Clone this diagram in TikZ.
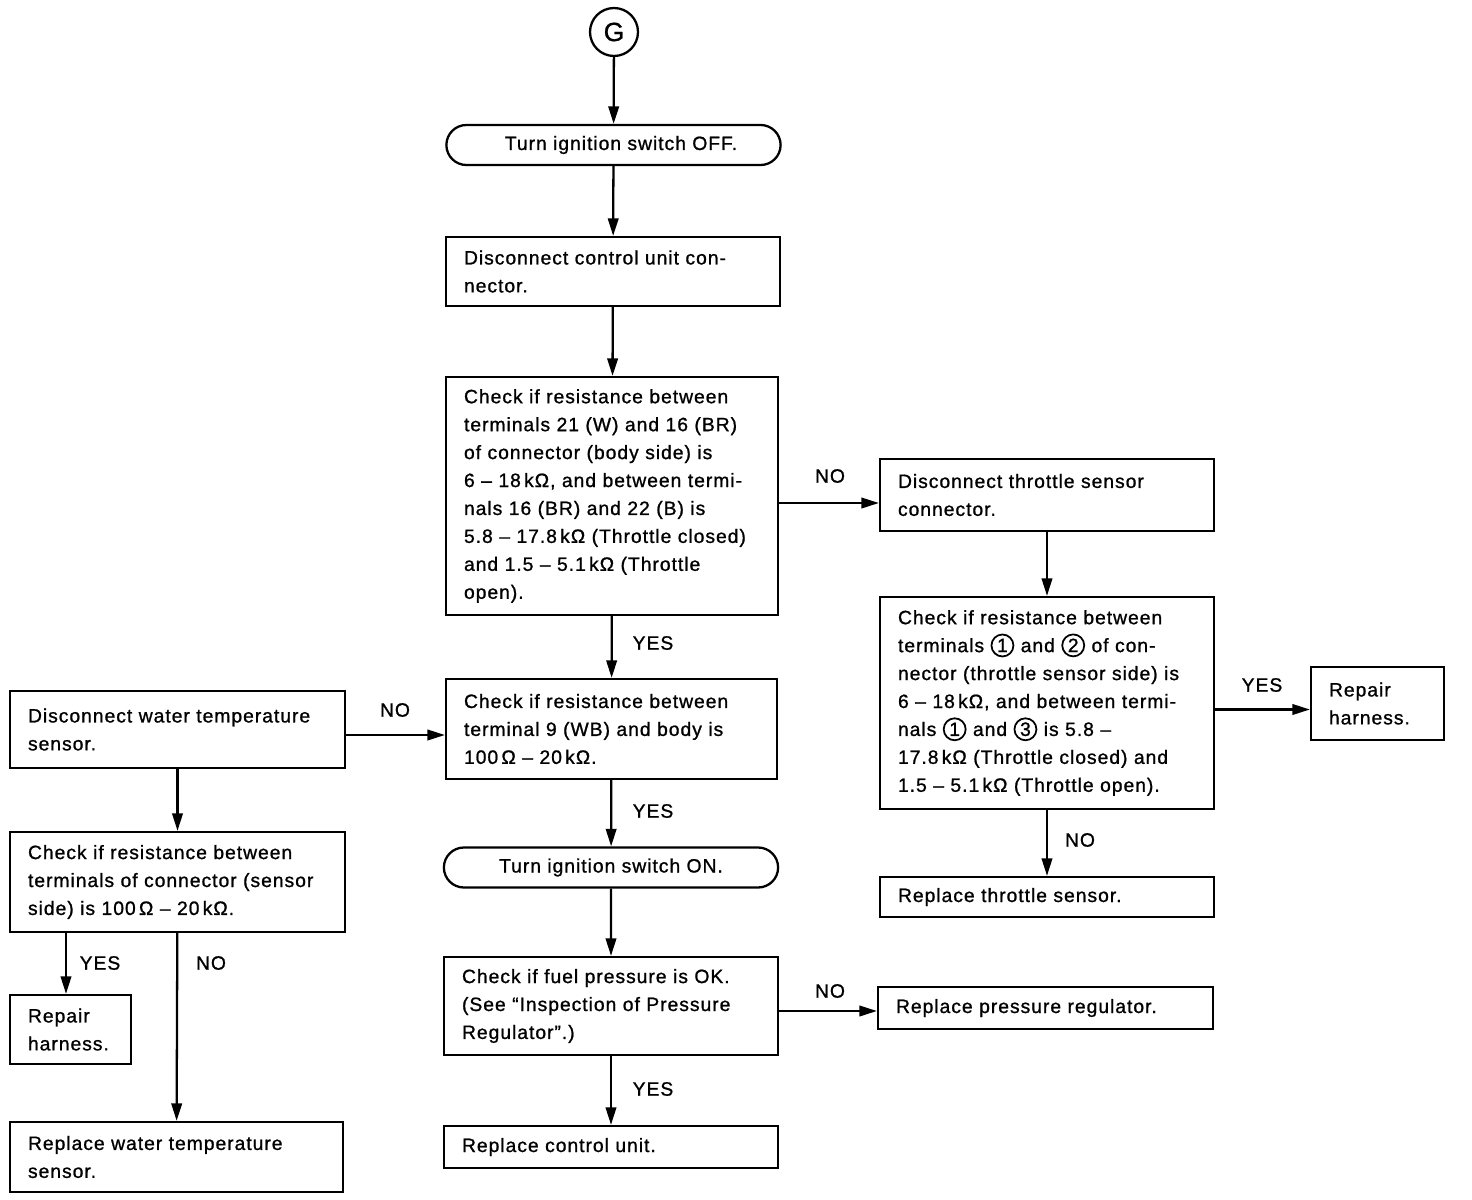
\documentclass[tikz,border=0pt]{standalone}
\usepackage{fontspec}
\setmainfont[LetterSpace=5,FakeBold=1.0]{Liberation Sans}
\usetikzlibrary{arrows.meta,shapes.misc}

\tikzset{
  box/.style 2 args={draw, line width=1.3pt, rectangle, align=left,
    inner xsep=0.36cm, inner ysep=0pt, text width=#1, minimum height=#2},
  roundbox/.style={draw, line width=1.3pt, rounded rectangle,
    minimum width=6.92cm, minimum height=0.8cm},
  flow/.style={line width=1.3pt, -{Triangle[length=10pt,width=6pt]}},
  lbl/.style={inner sep=0pt},
}
\newcommand{\cnum}[1]{\tikz[baseline=(c.base)]\node[circle,draw,line width=1pt,
  inner sep=0.4pt,minimum size=12.5pt] (c) {#1};}

\begin{document}
\begin{tikzpicture}[x=0.02cm, y=-0.02cm, font=\fontsize{11}{15.9}\selectfont]
  \useasboundingbox (0,0) rectangle (1472,1200);

  % start
  \node[circle, draw, line width=1.3pt, minimum size=0.96cm, font=\fontsize{15}{15}\selectfont] (G) at (614,32) {G};

  % main column
  \node[roundbox] (off) at (613.5,145) {\hspace{0.3cm}Turn ignition switch OFF.};
  \node[box={5.96cm}{1.38cm}] (disc) at (613,271.5)
    {Disconnect control unit con-\\nector.};
  \node[box={5.92cm}{4.76cm}] (chk1) at (612,496)
    {Check if resistance between\\terminals 21 (W) and 16 (BR)\\of connector (body side) is\\
     6 – 18\,kΩ, and between termi-\\nals 16 (BR) and 22 (B) is\\
     5.8 – 17.8\,kΩ (Throttle closed)\\and 1.5 – 5.1\,kΩ (Throttle\\open).};
  \node[box={5.9cm}{2.0cm}] (chk2) at (611.5,729)
    {Check if resistance between\\terminal 9 (WB) and body is\\100\,Ω – 20\,kΩ.};
  \node[roundbox] (on) at (611,867.5) {Turn ignition switch ON.};
  \node[box={5.96cm}{1.96cm}] (fuel) at (611,1006)
    {Check if fuel pressure is OK.\\(See ``Inspection of Pressure\\Regulator''.)};
  \node[box={5.96cm}{0.84cm}] (repcu) at (611,1147) {Replace control unit.};

  % throttle sensor branch
  \node[box={5.96cm}{1.44cm}] (thr) at (1047,495)
    {Disconnect throttle sensor\\connector.};
  \node[box={5.96cm}{4.24cm}] (chkthr) at (1047,703)
    {Check if resistance between\\terminals \cnum{1} and \cnum{2} of con-\\
     nector (throttle sensor side) is\\6 – 18\,kΩ, and between termi-\\
     nals \cnum{1} and \cnum{3} is 5.8 –\\17.8\,kΩ (Throttle closed) and\\
     1.5 – 5.1\,kΩ (Throttle open).};
  \node[box={1.94cm}{1.46cm}] (rep2) at (1377.5,703.5) {Repair\\harness.};
  \node[box={5.96cm}{0.8cm}] (repthr) at (1047,897) {Replace throttle sensor.};
  \node[box={5.98cm}{0.84cm}] (reppr) at (1045.5,1008) {Replace pressure regulator.};

  % water temperature sensor branch
  \node[box={5.98cm}{1.54cm}] (water) at (177.5,729.5)
    {Disconnect water temperature\\sensor.};
  \node[box={5.98cm}{2.0cm}] (chkw) at (177.5,882)
    {Check if resistance between\\terminals of connector (sensor\\side) is 100\,Ω – 20\,kΩ.};
  \node[box={1.7cm}{1.38cm}] (rep1) at (70.5,1029.5) {Repair\\harness.};
  \node[box={5.94cm}{1.4cm}] (repw) at (176.5,1157)
    {Replace water temperature\\sensor.};

  % arrow ends
  \coordinate (thrin) at ([yshift=-0.16cm]thr.west);
  \coordinate (rep2in) at ([yshift=-0.12cm]rep2.west);
  \coordinate (repprin) at ([yshift=-0.06cm]reppr.west);
  \coordinate (chk2in) at ([yshift=-0.12cm]chk2.west);
  \coordinate (rep1in) at ([xshift=-0.09cm]rep1.north);

  % connectors
  \draw[flow] (G) -- (off);
  \draw[flow] (off) -- (disc);
  \draw[flow] (disc) -- (chk1);
  \draw[flow] (chk1) -- (chk2);
  \draw[flow] (chk2) -- (on);
  \draw[flow] (on) -- (fuel);
  \draw[flow] (fuel) -- (repcu);
  \draw[flow] (chk1.east |- thrin) -- (thrin);
  \draw[flow] (thr) -- (chkthr);
  \draw[flow] (chkthr.east |- rep2in) -- (rep2in);
  \draw[flow] (chkthr) -- (repthr);
  \draw[flow] (fuel.east |- repprin) -- (repprin);
  \draw[flow] (water.east |- chk2in) -- (chk2in);
  \draw[flow] (water) -- (chkw);
  \draw[flow] (chkw.south -| rep1in) -- (rep1in);
  \draw[flow] (chkw) -- (repw);

  % answers
  \node[lbl] (y1) at (653,643) {YES};
  \node[lbl] (n1) at (830,476) {NO};
  \node[lbl] (y2) at (653,811) {YES};
  \node[lbl] (n2) at (395,710) {NO};
  \node[lbl] (y3) at (1262,685) {YES};
  \node[lbl] (n3) at (1080,840) {NO};
  \node[lbl] (y4) at (100,963) {YES};
  \node[lbl] (n4) at (211,963) {NO};
  \node[lbl] (n5) at (830,991) {NO};
  \node[lbl] (y5) at (653,1089) {YES};
\end{tikzpicture}
\end{document}
